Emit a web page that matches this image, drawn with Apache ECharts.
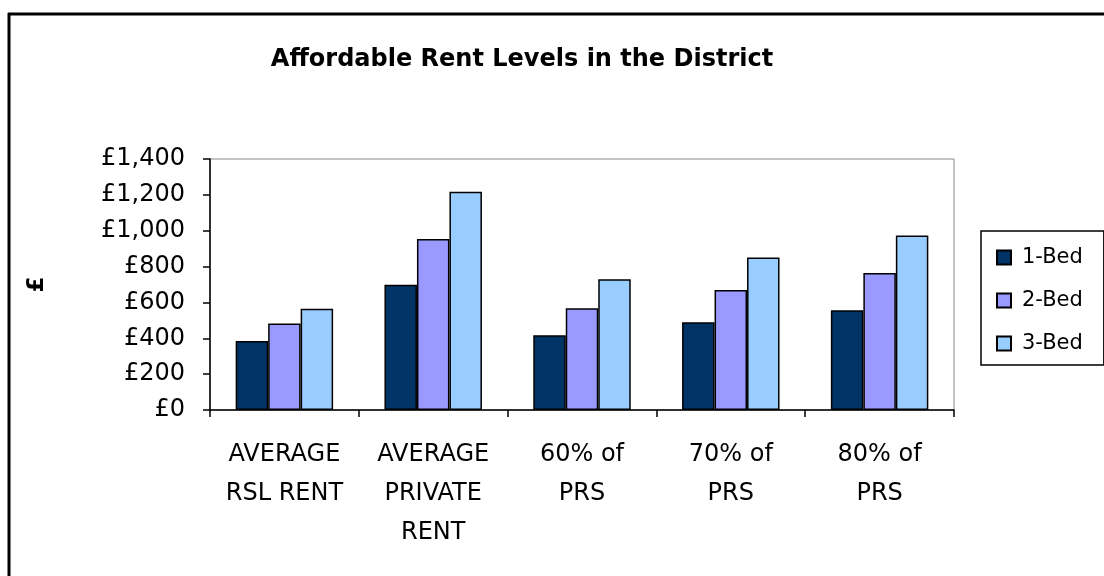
<!DOCTYPE html>
<html>

<head>
    <meta charset="utf-8">
    <script src="https://cdn.jsdelivr.net/npm/echarts@6/dist/echarts.min.js"></script>
    <style>
        html, body { margin: 0; padding: 0; background: #fff; }
        #chart { width: 1104px; height: 576px; }
    </style>
</head>

<body>
    <div id="chart"></div>
</body>

<script type='text/javascript'>

    // 数据
    var categories = ['AVERAGE\nRSL RENT', 'AVERAGE\nPRIVATE\nRENT', '60% of\nPRS', '70% of\nPRS', '80% of\nPRS'];
    var bed1 = [385, 698, 417, 489, 557];
    var bed2 = [482, 954, 568, 670, 764];
    var bed3 = [565, 1218, 729, 851, 973];
    var seriesNames = ['1-Bed', '2-Bed', '3-Bed'];
    var seriesColors = ['#003366', '#9999FF', '#99CCFF'];
    var yTicks = { min: 0, max: 1400, interval: 200 };

    var fontName = 'DejaVu Sans';

    function makeSeries(name, data, color) {
        return {
            name: name,
            type: 'bar',
            data: data,
            barGap: '0%',
            barCategoryGap: '34.5%',
            itemStyle: { color: color, borderColor: '#000', borderWidth: 1.5 }
        };
    }

    var option = {
        backgroundColor: '#fff',
        animation: false,
        title: {
            text: 'Affordable Rent Levels in the District',
            left: 517,
            top: 43,
            textAlign: 'center',
            textStyle: { fontFamily: fontName, fontWeight: 'bold', fontSize: 24, color: '#000' }
        },
        legend: {
            orient: 'vertical',
            left: 981,
            top: 231,
            padding: [16, 21, 11, 15],
            itemWidth: 14,
            itemHeight: 14,
            itemGap: 22,
            borderColor: '#000',
            borderWidth: 1.5,
            icon: 'rect',
            data: seriesNames,
            textStyle: { fontFamily: fontName, fontSize: 21, color: '#000', padding: [0, 0, 0, 6] }
        },
        grid: {
            left: 210,
            right: 150,
            top: 159,
            bottom: 166,
            show: true,
            borderColor: '#888',
            borderWidth: 1
        },
        xAxis: {
            type: 'category',
            data: categories,
            axisLine: { lineStyle: { color: '#000', width: 1.5 } },
            axisTick: { show: true, length: 7, lineStyle: { color: '#000', width: 1.5 } },
            axisLabel: {
                interval: 0,
                margin: 25,
                lineHeight: 39,
                fontFamily: fontName,
                fontSize: 24,
                color: '#000'
            }
        },
        yAxis: {
            type: 'value',
            min: yTicks.min,
            max: yTicks.max,
            interval: yTicks.interval,
            name: '£',
            nameLocation: 'middle',
            nameRotate: 90,
            nameGap: 161,
            nameTextStyle: { fontFamily: fontName, fontWeight: 'bold', fontSize: 23, color: '#000' },
            axisLine: { show: true, lineStyle: { color: '#000', width: 1.5 } },
            axisTick: { show: true, length: 7, lineStyle: { color: '#000', width: 1.5 } },
            splitLine: { show: false },
            axisLabel: {
                margin: 25,
                fontFamily: fontName,
                fontSize: 24,
                color: '#000',
                formatter: function (v) { return '£' + v.toLocaleString('en-GB'); }
            }
        },
        series: [
            makeSeries(seriesNames[0], bed1, seriesColors[0]),
            makeSeries(seriesNames[1], bed2, seriesColors[1]),
            makeSeries(seriesNames[2], bed3, seriesColors[2])
        ],
        // 外框 (左、上)
        graphic: [
            { type: 'line', shape: { x1: 9, y1: 13, x2: 9, y2: 580 }, style: { stroke: '#000', lineWidth: 3 } },
            { type: 'line', shape: { x1: 8, y1: 14, x2: 1110, y2: 14 }, style: { stroke: '#000', lineWidth: 3 } }
        ]
    };

    var chart = echarts.init(document.getElementById('chart'));
    chart.setOption(option);
</script>

</html>
